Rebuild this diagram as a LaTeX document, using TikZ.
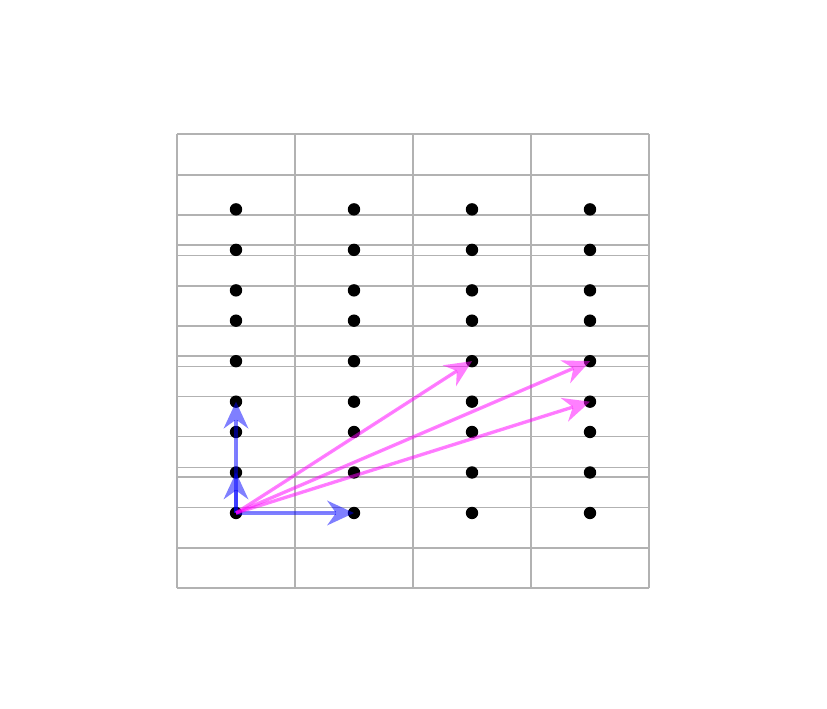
\documentclass[tikz,border=0pt]{standalone}
\usepackage{tikz}
\usetikzlibrary{arrows.meta}
\definecolor{vecblue}{RGB}{0,0,255}
\definecolor{vecpink}{RGB}{255,0,255}
\tikzset{
  gridline/.style={draw=black!30, line width=1.6pt},
  latdot/.style={fill=black},
  basisvec/.style={-{Stealth[length=27pt, width=25pt, inset=9pt, line width=0pt]}, draw=vecblue, fill=vecblue, opacity=0.5, line width=3.4pt},
  sumvec/.style={-{Stealth[length=27pt, width=25pt, inset=9pt, line width=0pt]}, draw=vecpink, fill=vecpink, opacity=0.5, line width=3.4pt}
}

\begin{document}
\begin{tikzpicture}[x=1pt, y=1pt]
  \useasboundingbox (0,0) rectangle (827,709);
  % grid of boxes
  \foreach \gx in {177,295,413,531,649}
    \draw[gridline] (\gx,121) -- (\gx,574.7);
  \foreach \gy in {121,160.7,201.3,231.7,241.3,272.3,312.3,342.3,352.7,382.7,423,453.3,464,494,534,574.7}
    \draw[gridline] (177,\gy) -- (649,\gy);
  % lattice points
  \foreach \cx [count=\ci from 0] in {236,354,472,590}
    \foreach \sj in {0,1,2}
      \foreach \si in {0,1,2}
        \coordinate (p-\ci-\si-\sj) at (\cx, 196+\si*40.5+\sj*111.3);
  \foreach \ci in {0,...,3}
    \foreach \sj in {0,1,2}
      \foreach \si in {0,1,2}
        \fill[latdot] (p-\ci-\si-\sj) circle (6.2);
  % vectors
  \draw[basisvec] (p-0-0-0) -- (p-1-0-0);
  \draw[basisvec] (p-0-0-0) -- (p-0-1-0);
  \draw[basisvec] (p-0-0-0) -- (p-0-0-1);
  \draw[sumvec] (p-0-0-0) -- (p-2-1-1);
  \draw[sumvec] (p-0-0-0) -- (p-3-1-1);
  \draw[sumvec] (p-0-0-0) -- (p-3-0-1);
\end{tikzpicture}
\end{document}
